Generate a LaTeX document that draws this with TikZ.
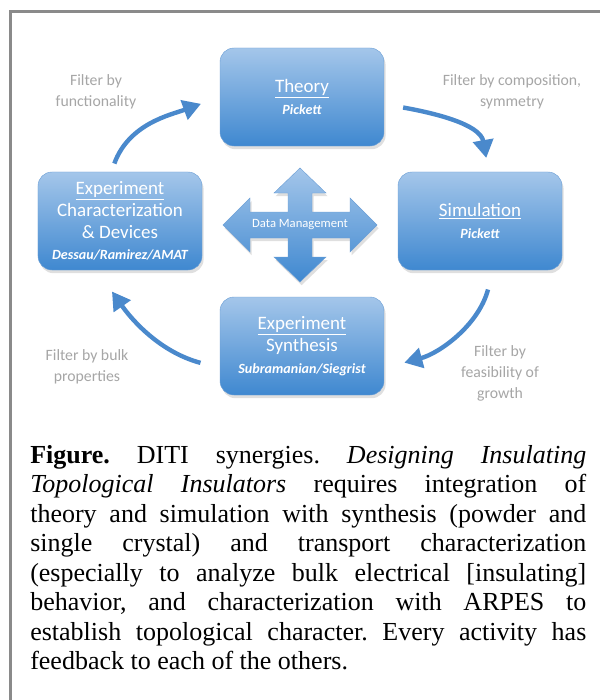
\documentclass[tikz,border=0pt]{standalone}
\usepackage{fontspec}
\setmainfont{Liberation Serif}
\newfontfamily\diagfont{Carlito}
\usepackage{xcolor}
\definecolor{box-top}{HTML}{A4C6EA}
\definecolor{box-bottom}{HTML}{3F88D0}
\definecolor{box-edge}{HTML}{6C9FD6}
\definecolor{flow-blue}{HTML}{4A89CC}
\definecolor{label-gray}{HTML}{A6A6A6}
\definecolor{frame-gray}{HTML}{8A8A8A}
\usetikzlibrary{arrows.meta, shadows}
\newcommand\staffname[1]{{\bfseries\itshape\fontsize{10}{12}\selectfont #1}}
\frenchspacing

\begin{document}
\begin{tikzpicture}[x=0.25mm, y=0.25mm,
    stagebox/.style={draw=box-edge, line width=0.3pt, rounded corners=3.5mm,
        top color=box-top, bottom color=box-bottom, text=white,
        minimum width=41mm, minimum height=24.5mm, align=center,
        font=\diagfont\fontsize{13.5}{15.5}\selectfont,
        drop shadow={opacity=0.25, shadow xshift=0.4mm, shadow yshift=-0.8mm}},
    crossfill/.style={draw=box-edge, line width=0.3pt,
        top color=box-top, bottom color=box-bottom,
        drop shadow={opacity=0.25, shadow xshift=0.4mm, shadow yshift=-0.8mm}},
    filterlabel/.style={text=label-gray, align=center,
        font=\diagfont\fontsize{11.2}{15}\selectfont},
    flowarrow/.style={draw=flow-blue, line width=1.1mm,
        -{Triangle[length=4.5mm, width=5mm]}}]
    \useasboundingbox (0,0) rectangle (600,-700);
    \fill[white] (0,0) rectangle (600,-700);
    \draw[frame-gray, line width=0.75mm] (10,-700) -- (10,-12) -- (600,-12);

    % the four stages
    \node[stagebox] (theory) at (302,-97) {\underline{Theory}\\\staffname{Pickett}};
    \node[stagebox] (exp) at (120,-221)
        {\underline{Experiment}\\Characterization\\\&~Devices\\\staffname{Dessau/Ramirez/AMAT}};
    \node[stagebox] (sim) at (480,-221) {\underline{Simulation}\\\staffname{Pickett}};
    \node[stagebox] (synth) at (302,-346)
        {\underline{Experiment}\\Synthesis\\\staffname{Subramanian/Siegrist}};

    % data management cross
    \coordinate (dmc) at (300,-225);
    \path[crossfill, shift={(dmc)}] (-77,0) -- (-50,27) -- (-50,13) -- (-12,13)
        -- (-12,32) -- (-26,32) -- (0,57) -- (26,32) -- (12,32) -- (12,13)
        -- (50,13) -- (50,27) -- (77,0) -- (50,-27) -- (50,-13) -- (12,-13)
        -- (12,-32) -- (26,-32) -- (0,-57) -- (-26,-32) -- (-12,-32) -- (-12,-13)
        -- (-50,-13) -- (-50,-27) -- cycle;
    \node[font=\diagfont\fontsize{9}{11}\selectfont, text=white] (dm) at (dmc) {Data Management};

    % feedback loop
    \draw[flowarrow, shorten <=2.2mm, shorten >=5mm] (exp.100) to[out=70, in=200] (theory.west);
    \draw[flowarrow, shorten <=4.8mm, shorten >=3.5mm] (theory.-5) to[out=-10, in=100] (sim.80);
    \draw[flowarrow, shorten <=5mm, shorten >=5.2mm] (sim.-75) to[out=-105, in=15] (synth.-15);
    \draw[flowarrow, shorten <=5mm, shorten >=6.5mm] (synth.195) to[out=165, in=-55] (exp.-115);

    \node[filterlabel] (lbl-func) at (96,-92) {Filter by\\functionality};
    \node[filterlabel] (lbl-comp) at (512,-92) {Filter by composition,\\symmetry};
    \node[filterlabel] (lbl-bulk) at (87,-367) {Filter by bulk\\properties};
    \node[filterlabel] (lbl-grow) at (500,-373) {Filter by\\feasibility of\\growth};

    % caption
    \node[anchor=north west, inner sep=0, text width=139mm, align=justify,
          font=\fontsize{18.5}{21}\selectfont] (caption) at (30,-445)
        {\hyphenpenalty=10000 \tolerance=10000
         \textbf{Figure.} DITI synergies. \textit{Designing Insulating}\linebreak
         \textit{Topological Insulators} requires integration of\linebreak
         theory and simulation with synthesis (powder and\linebreak
         single crystal) and transport characterization\linebreak
         (especially to analyze bulk electrical [insulating]\linebreak
         behavior, and characterization with ARPES to\linebreak
         establish topological character. Every activity has\linebreak
         feedback to each of the others.};
\end{tikzpicture}
\end{document}
